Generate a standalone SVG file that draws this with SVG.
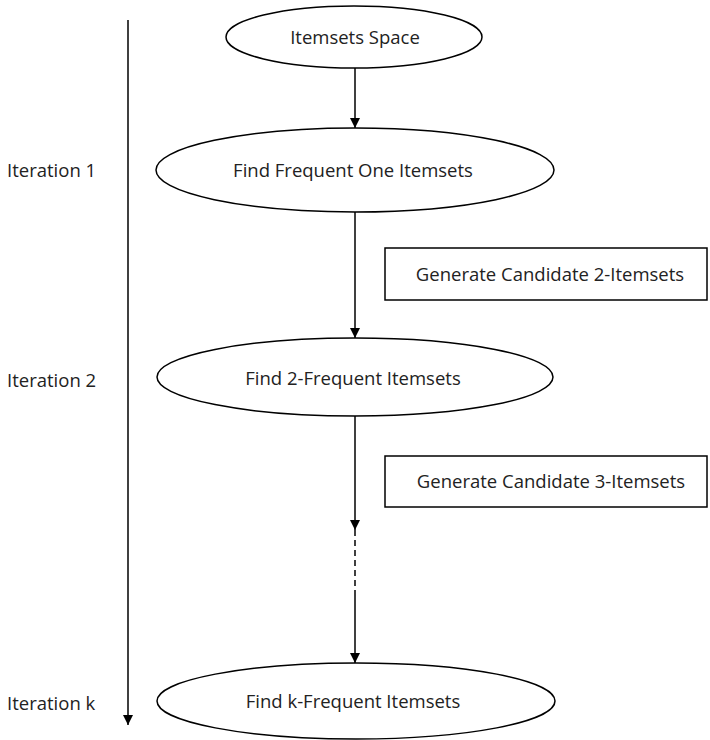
<svg xmlns="http://www.w3.org/2000/svg" width="710" height="740" viewBox="0 0 710 740">
<defs>
<style>
.node{fill:#fff;stroke:#000;stroke-width:1.5}
.lbl{font-family:"Open Sans","Noto Sans",sans-serif;font-size:18.5px;fill:#222;text-anchor:middle;dominant-baseline:central}
.side{font-family:"Open Sans","Noto Sans",sans-serif;font-size:18.5px;fill:#222;dominant-baseline:central}
.edge{stroke:#000;stroke-width:1.5;fill:none}
</style>
<marker id="ah" viewBox="0 0 10 10" refX="10" refY="5" markerWidth="10" markerHeight="10" markerUnits="userSpaceOnUse" orient="auto">
<path d="M0,0 L10,5 L0,10 Z" fill="#000"/>
</marker>
</defs>
<g id="connectors">
<line class="edge" x1="128" y1="20" x2="128" y2="725" marker-end="url(#ah)"/>
<line class="edge" x1="355" y1="68" x2="355" y2="128" marker-end="url(#ah)"/>
<line class="edge" x1="355" y1="212" x2="355" y2="338" marker-end="url(#ah)"/>
<line class="edge" x1="355" y1="416" x2="355" y2="530" marker-end="url(#ah)"/>
<line class="edge" x1="355" y1="530" x2="355" y2="596" stroke-dasharray="6,4"/>
<line class="edge" x1="355" y1="596" x2="355" y2="663" marker-end="url(#ah)"/>
</g>
<g id="n-space"><ellipse class="node" cx="354" cy="37" rx="128" ry="31"/><text class="lbl" x="355" y="36">Itemsets Space</text></g>
<g id="n-one"><ellipse class="node" cx="355" cy="170" rx="199" ry="42"/><text class="lbl" x="353" y="169">Find Frequent One Itemsets</text></g>
<g id="n-gen2"><rect class="node" x="385" y="248" width="322" height="52"/><text class="lbl" x="550" y="273">Generate Candidate 2-Itemsets</text></g>
<g id="n-two"><ellipse class="node" cx="355" cy="377" rx="198" ry="39"/><text class="lbl" x="353" y="377">Find 2-Frequent Itemsets</text></g>
<g id="n-gen3"><rect class="node" x="385" y="456" width="322" height="51"/><text class="lbl" x="551" y="480">Generate Candidate 3-Itemsets</text></g>
<g id="n-k"><ellipse class="node" cx="356" cy="701" rx="199" ry="38"/><text class="lbl" x="353" y="700">Find k-Frequent Itemsets</text></g>
<g id="labels">
<text class="side" x="7" y="169">Iteration 1</text>
<text class="side" x="7" y="379">Iteration 2</text>
<text class="side" x="7" y="702">Iteration k</text>
</g>
</svg>
